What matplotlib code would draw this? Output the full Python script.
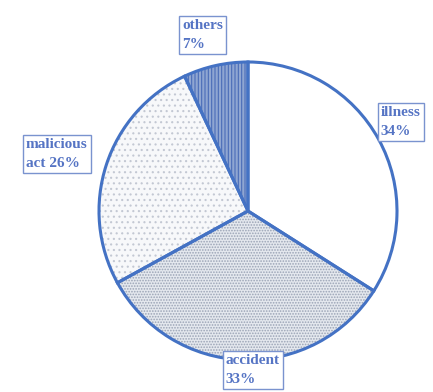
import matplotlib
matplotlib.use("Agg")
import matplotlib.pyplot as plt

# donnees du camembert (sens horaire depuis midi)
labels = ["illness", "accident", "malicious\nact", "others"]
values = [34, 33, 26, 7]
hatches = ["", "......", "...", "|||||"]
faces = ["#ffffff", "#e4e8ee", "#f7f8fa", "#8fa6d2"]
hatch_cols = ["#ffffff", "#9aa3b5", "#c3c8d3", "#4a6cb8"]

blue = "#4472c4"
txt_blue = "#5574c4"

# position des etiquettes (en unites du rayon)
label_pos = [(0.89, 0.60), (-0.15, -1.07), (-1.49, 0.38), (-0.44, 1.18)]
label_txt = ["illness\n34%", "accident\n33%", "malicious\nact 26%", "others\n7%"]

plt.rcParams["hatch.linewidth"] = 0.8

fig = plt.figure(figsize=(4.33, 3.92), dpi=100)
ax = fig.add_axes([0, 0, 1, 1])

# premier passage : remplissage et hachures
wedges, _ = ax.pie(values, startangle=90, counterclock=False, radius=1.0,
                   wedgeprops=dict(linewidth=0))
for w, h, f, hc in zip(wedges, hatches, faces, hatch_cols):
    w.set_facecolor(f)
    w.set_hatch(h)
    w.set_edgecolor(hc)

# deuxieme passage : contours bleus
ax.pie(values, startangle=90, counterclock=False, radius=1.0,
       wedgeprops=dict(facecolor="none", edgecolor=blue, linewidth=2.2))

for (x, y), t in zip(label_pos, label_txt):
    ax.text(x, y, t, ha="left", va="center", fontsize=11, fontweight="bold",
            family=["Liberation Serif", "DejaVu Serif"], color=txt_blue,
            linespacing=1.6, zorder=5,
            bbox=dict(boxstyle="square,pad=0.2", facecolor="white",
                      edgecolor="#7a93cf", linewidth=1.0))

ax.set_xlim(-248 / 149, (433 - 248) / 149)
ax.set_ylim((211 - 392) / 149, 211 / 149)
ax.set_aspect("equal")
ax.axis("off")

fig.savefig("out.png", dpi=100)
